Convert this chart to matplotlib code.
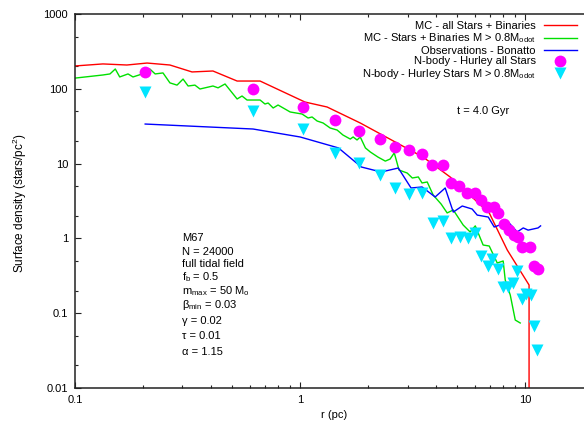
import numpy as np
import matplotlib
matplotlib.use('Agg')
import matplotlib.pyplot as plt
from matplotlib.ticker import FixedLocator, NullFormatter

plt.rcParams['font.family'] = ['Liberation Sans', 'DejaVu Sans']
plt.rcParams['mathtext.fontset'] = 'custom'
plt.rcParams['mathtext.rm'] = 'Liberation Sans'
plt.rcParams['mathtext.it'] = 'Liberation Sans'

# MC - all stars + binaries
r_mc_all = [0.1, 0.133, 0.170, 0.209, 0.264, 0.331, 0.410, 0.525, 0.664, 1.05,
            1.318, 1.85, 2.70, 3.52, 4.64, 6.92, 8.32, 10.4, 10.4]
sd_mc_all = [202, 215, 208, 221, 208, 168, 173, 127, 127, 66.6,
             57.1, 34.9, 18.8, 12.2, 6.62, 2.19, 0.70, 0.238, 0.001]

# MC - stars + binaries with M > 0.8 Msun
r_mc_08 = [0.1, 0.133, 0.143, 0.151, 0.158, 0.172, 0.181, 0.199, 0.215, 0.227,
           0.246, 0.264, 0.284, 0.302, 0.318, 0.341, 0.359, 0.410, 0.432, 0.464,
           0.525, 0.552, 0.581, 0.664, 0.698, 0.721, 0.759, 0.798, 0.903, 1.02,
           1.085, 1.13, 1.19, 1.265, 1.36, 1.46, 1.55, 1.67, 1.72, 1.79,
           1.85, 1.95, 2.05, 2.22, 2.39, 2.51, 2.62, 2.75, 2.99, 3.15,
           3.35, 3.48, 3.67, 3.90, 4.23, 4.50, 4.79, 5.30, 5.69, 6.00,
           6.50, 6.92, 7.51, 7.98, 8.15, 8.58, 9.03, 9.5]
sd_mc_08 = [139, 153, 158, 184, 144, 158, 144, 158, 184, 158,
            163, 120, 112, 135, 109, 112, 99.4, 109, 103, 116,
            73.1, 80.1, 70.8, 70.8, 62.6, 64.6, 55.4, 60.7, 49.0, 46.0,
            40.7, 42.0, 37.1, 34.9, 29.9, 28.1, 24.1, 21.3, 22.7, 20.7,
            22.7, 16.2, 14.3, 12.2, 10.8, 11.5, 13.9, 8.20, 7.48, 6.42,
            6.63, 5.51, 5.68, 3.80, 2.88, 2.19, 2.40, 1.51, 1.22, 1.47,
            0.816, 0.791, 0.469, 0.499, 0.278, 0.175, 0.081, 0.074]

# Observations - Bonatto
r_obs = [0.205, 0.618, 1.0, 1.48, 1.87, 2.29, 2.73, 3.11, 3.48, 3.98,
         4.41, 4.79, 5.25, 5.81, 6.12, 6.85, 7.28, 8.40, 9.21, 9.80,
         10.3, 11.4, 11.7]
sd_obs = [33.8, 29.0, 22.7, 16.2, 9.01, 7.72, 8.73, 4.72, 4.87, 3.58,
          4.72, 2.25, 2.71, 2.47, 2.05, 1.93, 1.42, 1.66, 1.22, 1.38,
          1.29, 1.38, 1.47]

# N-body (Hurley) - all stars
r_nb_all = [0.205, 0.618, 1.03, 1.43, 1.83, 2.27, 2.64, 3.05, 3.48, 3.86,
            4.32, 4.69, 5.09, 5.52, 6.00, 6.37, 6.78, 7.28, 7.59, 8.07,
            8.49, 8.94, 9.31, 9.70, 10.5, 10.9, 11.4]
sd_nb_all = [168, 99.4, 57.1, 38.3, 27.3, 21.3, 16.7, 15.2, 13.4, 9.58,
             9.58, 5.51, 5.01, 4.05, 4.05, 3.26, 2.63, 2.63, 2.19, 1.56,
             1.29, 1.11, 1.04, 0.767, 0.767, 0.428, 0.390]

# N-body (Hurley) - stars with M > 0.8 Msun
r_nb_08 = [0.205, 0.618, 1.03, 1.43, 1.83, 2.27, 2.64, 3.05, 3.48, 3.90,
           4.32, 4.69, 5.14, 5.58, 6.00, 6.37, 6.85, 7.13, 7.59, 7.98,
           8.40, 8.84, 9.21, 9.70, 10.1, 10.6, 10.9, 11.3]
sd_nb_08 = [90.6, 50.5, 29.0, 13.9, 10.2, 7.04, 4.72, 3.92, 4.05, 1.61,
            1.71, 1.01, 1.04, 1.01, 1.18, 0.582, 0.428, 0.531, 0.390, 0.224,
            0.224, 0.254, 0.366, 0.155, 0.181, 0.175, 0.0675, 0.0322]

y_ticks = [1000, 100, 10, 1, 0.1, 0.01]
y_labels = ['1000', '100', '10', '1', '0.1', '0.01']
x_ticks = [0.1, 1, 10]
x_labels = ['0.1', '1', '10']

W, H = 584, 421
fig = plt.figure(figsize=(W / 100, H / 100), dpi=100)
ax = fig.add_axes([75 / W, 33 / H, 518 / W, 374 / H])

l1, = ax.plot(r_mc_all, sd_mc_all, color='#ff0000', lw=1.0)
l2, = ax.plot(r_mc_08, sd_mc_08, color='#00e000', lw=1.0)
l3, = ax.plot(r_obs, sd_obs, color='#0000ff', lw=1.0)
l4, = ax.plot(r_nb_all, sd_nb_all, 'o', color='#ff00ff', ms=8.5, mec='none')
l5, = ax.plot(r_nb_08, sd_nb_08, 'v', color='#00e5ff', ms=8, mec='none')

ax.set_xscale('log')
ax.set_yscale('log')
ax.set_xlim(0.1, 20)
ax.set_ylim(0.01, 1000)

ax.xaxis.set_major_locator(FixedLocator(x_ticks))
ax.set_xticklabels(x_labels)
ax.xaxis.set_minor_locator(FixedLocator(
    [m * 10.0 ** e for e in (-1, 0, 1) for m in range(2, 10)]))
ax.xaxis.set_minor_formatter(NullFormatter())
ax.yaxis.set_major_locator(FixedLocator(y_ticks))
ax.set_yticklabels(y_labels)
ax.yaxis.set_minor_locator(FixedLocator(
    [m * 10.0 ** e for e in (-2, -1, 0, 1, 2) for m in (2, 5)]))
ax.yaxis.set_minor_formatter(NullFormatter())

ax.tick_params(which='both', direction='in', top=True, right=True,
               labelsize=8, width=0.8, color='#222222')
ax.tick_params(which='major', length=4.5, pad=5)
ax.tick_params(which='minor', length=2.5)
for s in ax.spines.values():
    s.set_linewidth(1.1)
    s.set_color('#222222')

ax.set_xlabel('r (pc)', fontsize=8, labelpad=4)
fig.text(20 / W, 1 - 203 / H, 'Surface density (stars/pc$^2$)', fontsize=8.5,
         rotation=90, ha='center', va='center')

ax.legend([l1, l2, l3, l4, l5],
          ['MC - all Stars + Binaries',
           'MC - Stars + Binaries M > 0.8M$_{\\mathrm{odot}}$',
           'Observations - Bonatto',
           'N-body - Hurley all Stars',
           'N-body - Hurley Stars M > 0.8M$_{\\mathrm{odot}}$'],
          loc='upper right', bbox_to_anchor=(577 / W, 1 - 21 / H),
          bbox_transform=fig.transFigure, frameon=False, markerfirst=False,
          fontsize=8, handlelength=3.0, handletextpad=0.7, labelspacing=0.05,
          borderpad=0, borderaxespad=0, numpoints=1)

fig.text(457 / W, 1 - 111 / H, 't = 4.0 Gyr', fontsize=8, va='center')

params = [('M67', 238), ('N = 24000', 252), ('full tidal field', 264),
          ('f$_\\mathrm{b}$ = 0.5', 277), ('m$_\\mathrm{max}$ = 50 M$_\\mathrm{o}$', 291),
          ('β$_\\mathrm{min}$ = 0.03', 305), ('γ = 0.02', 321),
          ('τ = 0.01', 336), ('α = 1.15', 352)]
for txt, ypx in params:
    fig.text(182 / W, 1 - ypx / H, txt, fontsize=8, va='center')

fig.savefig('out.png', dpi=100)
